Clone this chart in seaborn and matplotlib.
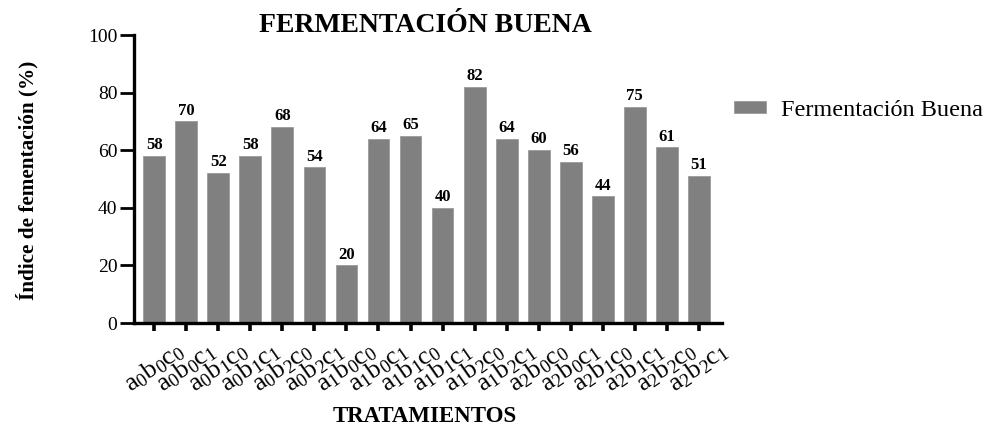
import matplotlib
matplotlib.use("Agg")
import matplotlib.pyplot as plt
import matplotlib.transforms as mtransforms
import seaborn as sns
import pandas as pd

categories = ["a0b0c0", "a0b0c1", "a0b1c0", "a0b1c1", "a0b2c0", "a0b2c1",
              "a1b0c0", "a1b0c1", "a1b1c0", "a1b1c1", "a1b2c0", "a1b2c1",
              "a2b0c0", "a2b0c1", "a2b1c0", "a2b1c1", "a2b2c0", "a2b2c1"]
values = [58, 70, 52, 58, 68, 54, 20, 64, 65, 40, 82, 64, 60, 56, 44, 75, 61, 51]
series_name = "Fermentación Buena"
title = "FERMENTACIÓN BUENA"
xlabel = "TRATAMIENTOS"
ylabel = "Índice de fementación (%)"
yticks = [0, 20, 40, 60, 80, 100]

sns.set_theme(style="ticks")
plt.rcParams["font.family"] = ["Liberation Serif", "DejaVu Serif"]
plt.rcParams["text.color"] = "black"
plt.rcParams["axes.labelcolor"] = "black"
plt.rcParams["xtick.color"] = "black"
plt.rcParams["ytick.color"] = "black"
plt.rcParams["mathtext.fontset"] = "custom"
plt.rcParams["mathtext.rm"] = "Liberation Serif"
plt.rcParams["mathtext.it"] = "Liberation Serif:italic"
plt.rcParams["mathtext.bf"] = "Liberation Serif:bold"

df = pd.DataFrame({"cat": categories, "val": values})

fig = plt.figure(figsize=(9.92, 4.25), dpi=100)
ax = fig.add_axes([134 / 992, 1 - 323 / 425, (722 - 134) / 992, (323 - 35) / 425])

sns.barplot(data=df, x="cat", y="val", color="#808080", saturation=1,
            width=0.68, ax=ax, label=series_name, edgecolor="#9a9a9a", linewidth=0.6)

ax.set_xlim(-0.63, 17.72)
ax.set_ylim(0, 100)
ax.set_yticks(yticks)
ax.set_yticklabels([str(v) for v in yticks], fontsize=14, color="black")

def sub_label(s):
    return r"$\mathregular{%s_{%s}%s_{%s}%s_{%s}}$" % (s[0], s[1], s[2], s[3], s[4], s[5])

ax.set_xticks(range(len(categories)))
ax.set_xticklabels([sub_label(c) for c in categories], rotation=35,
                   ha="center", fontsize=19, color="black")
offset = mtransforms.ScaledTranslation(-17 / 100, 0, fig.dpi_scale_trans)
for lbl in ax.get_xticklabels():
    lbl.set_transform(lbl.get_transform() + offset)

for side in ["top", "right"]:
    ax.spines[side].set_visible(False)
for side in ["left", "bottom"]:
    ax.spines[side].set_linewidth(2.4)
    ax.spines[side].set_color("black")
ax.tick_params(axis="y", length=10, width=2, color="black", pad=2)
ax.tick_params(axis="x", length=6, width=2.6, color="black", pad=5)

for cont in ax.containers:
    ax.bar_label(cont, labels=[str(v) for v in values], padding=2,
                 fontsize=12, fontweight="bold", color="black")

ax.set_xlabel("")
ax.set_ylabel("")
fig.text(425 / 992, 1 - 416 / 425, xlabel, ha="center", va="center",
         fontsize=16.5, fontweight="bold", color="black")
fig.text(27 / 992, 1 - 180 / 425, ylabel, ha="center", va="center",
         rotation=90, fontsize=15.3, fontweight="bold", color="black")
fig.text(425 / 992, 1 - 26 / 425, title, ha="center", va="center",
         fontsize=20, fontweight="bold", color="black")

leg = ax.legend(loc="center left", bbox_to_anchor=(734 / 992, 1 - 110 / 425),
                bbox_transform=fig.transFigure, frameon=False, fontsize=17.5,
                borderpad=0, borderaxespad=0, handlelength=1.3,
                handleheight=0.4, handletextpad=0.65)
for t in leg.get_texts():
    t.set_color("black")

fig.savefig("out.png", dpi=100)
